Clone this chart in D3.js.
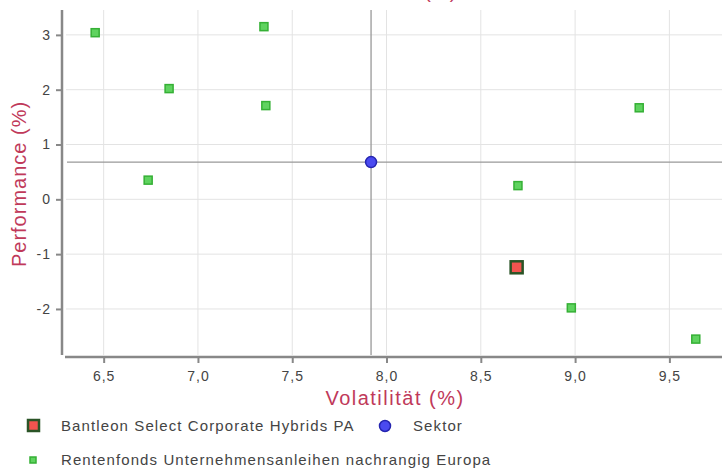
<!DOCTYPE html>
<html><head><meta charset="utf-8">
<script src="https://cdn.jsdelivr.net/npm/d3@7"></script>
<style>body{margin:0;background:#fff;} svg{display:block;font-family:"Liberation Sans",Arial,sans-serif;}</style>
</head><body>
<script>
// Data
const peerVol  = [6.455, 7.35, 6.847, 7.36, 6.736, 8.697, 9.34, 8.98, 9.64];
const peerPerf = [3.04, 3.15, 2.02, 1.71, 0.35, 0.25, 1.67, -1.98, -2.55];
const fundVol = [8.69], fundPerf = [-1.24];
const sectorVol = [7.918], sectorPerf = [0.68];
const xTicks = [6.5, 7.0, 7.5, 8.0, 8.5, 9.0, 9.5];
const yTicks = [-2, -1, 0, 1, 2, 3];
const seriesNames = ["Bantleon Select Corporate Hybrids PA", "Sektor", "Rentenfonds Unternehmensanleihen nachrangig Europa"];
const titleText = "Rendite-Risiko-Profil (%)";

const W = 722, H = 471;
const svg = d3.select("body").append("svg").attr("width", W).attr("height", H);
const x = d3.scaleLinear().domain([6.295, 9.779]).range([65, 722]);
const y = d3.scaleLinear().domain([-2.84, 3.454]).range([355, 10]);
const fmtX = d => d3.format(".1f")(d).replace(".", ",");
const fmtY = d => String(d);

// title (cut off at top, as in the reference)
svg.append("text").attr("x", 457).attr("y", -2).attr("text-anchor", "end")
  .attr("font-size", 19).attr("letter-spacing", 1).attr("fill", "#c0395a").text(titleText);

// grid
svg.append("g").selectAll("line").data(xTicks).join("line")
  .attr("x1", d => x(d)).attr("x2", d => x(d)).attr("y1", 10).attr("y2", 355)
  .attr("stroke", "#e3e3e3").attr("stroke-width", 1);
svg.append("g").selectAll("line").data(yTicks).join("line")
  .attr("x1", 66).attr("x2", 722).attr("y1", d => y(d)).attr("y2", d => y(d))
  .attr("stroke", "#e3e3e3").attr("stroke-width", 1);

// axes
const xAxis = svg.append("g").attr("transform", "translate(0,357)")
  .call(d3.axisBottom(x).tickValues(xTicks).tickFormat(fmtX).tickSize(6).tickPadding(8));
xAxis.select(".domain").attr("d", "M65,0H722").attr("stroke", "#888").attr("stroke-width", 2.5);
const yAxis = svg.append("g").attr("transform", "translate(62,0)")
  .call(d3.axisLeft(y).tickValues(yTicks).tickFormat(fmtY).tickSize(6).tickPadding(5));
yAxis.select(".domain").attr("d", "M0,10V355").attr("stroke", "#888").attr("stroke-width", 2.5);
[xAxis, yAxis].forEach(a => {
  a.selectAll(".tick line").attr("stroke", "#888").attr("stroke-width", 2);
  a.selectAll(".tick text").attr("fill", "#444").attr("font-size", 14).attr("letter-spacing", 1)
    .attr("font-family", "Liberation Sans, Arial, sans-serif");
});

// axis titles
svg.append("text").attr("x", 395).attr("y", 405).attr("text-anchor", "middle")
  .attr("font-size", 20).attr("letter-spacing", 1.5).attr("fill", "#c0395a").text("Volatilität (%)");
svg.append("text").attr("transform", "translate(26,184) rotate(-90)").attr("text-anchor", "middle")
  .attr("font-size", 20).attr("letter-spacing", 1).attr("fill", "#c0395a").text("Performance (%)");

// sector crosshair
svg.append("line").attr("x1", x(sectorVol[0])).attr("x2", x(sectorVol[0])).attr("y1", 10).attr("y2", 355)
  .attr("stroke", "#999").attr("stroke-width", 1.3);
svg.append("line").attr("x1", 67).attr("x2", 722).attr("y1", y(sectorPerf[0])).attr("y2", y(sectorPerf[0]))
  .attr("stroke", "#999").attr("stroke-width", 1.3);

// peers
const peers = peerVol.map((v, i) => ({v, p: peerPerf[i]}));
svg.append("g").selectAll("rect").data(peers).join("rect")
  .attr("x", d => x(d.v) - 4).attr("y", d => y(d.p) - 4).attr("width", 8).attr("height", 8)
  .attr("fill", "#5fd35f").attr("stroke", "#35b035").attr("stroke-width", 1.5);

// fund
svg.append("g").selectAll("rect").data(fundVol.map((v, i) => ({v, p: fundPerf[i]}))).join("rect")
  .attr("x", d => x(d.v) - 6).attr("y", d => y(d.p) - 6).attr("width", 12).attr("height", 12)
  .attr("fill", "#f2544f").attr("stroke", "#2a5426").attr("stroke-width", 2.5);

// sector
svg.append("g").selectAll("circle").data(sectorVol.map((v, i) => ({v, p: sectorPerf[i]}))).join("circle")
  .attr("cx", d => x(d.v)).attr("cy", d => y(d.p)).attr("r", 5.5)
  .attr("fill", "#4a4af0").attr("stroke", "#2525b0").attr("stroke-width", 1.5);

// legend
const lg = svg.append("g").attr("font-size", 15).attr("letter-spacing", 1.1).attr("fill", "#444");
lg.append("rect").attr("x", 28).attr("y", 420).attr("width", 11).attr("height", 11)
  .attr("fill", "#f2544f").attr("stroke", "#2a5426").attr("stroke-width", 2.5);
lg.append("text").attr("x", 61).attr("y", 431).text(seriesNames[0]);
lg.append("circle").attr("cx", 385).attr("cy", 426).attr("r", 5.5)
  .attr("fill", "#4a4af0").attr("stroke", "#2525b0").attr("stroke-width", 1.5);
lg.append("text").attr("x", 413).attr("y", 431).text(seriesNames[1]);
lg.append("rect").attr("x", 30).attr("y", 457).attr("width", 6).attr("height", 6)
  .attr("fill", "#5fd35f").attr("stroke", "#35b035").attr("stroke-width", 1.5);
lg.append("text").attr("x", 61).attr("y", 465).text(seriesNames[2]);
</script>
</body></html>
